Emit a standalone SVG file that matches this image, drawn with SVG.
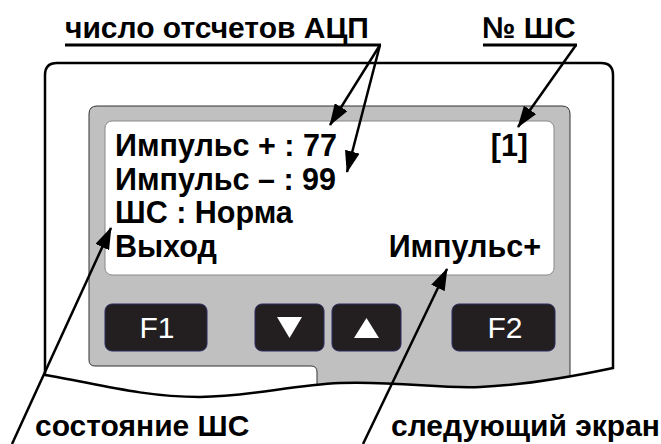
<svg xmlns="http://www.w3.org/2000/svg" width="661" height="444" viewBox="0 0 661 444">
  <defs>
    <style>
      .lbl { font-family: "Liberation Sans", Arial, sans-serif; font-weight: bold; font-size: 30px; fill: #000; }
      .scr { font-family: "Liberation Sans", Arial, sans-serif; font-weight: bold; font-size: 30.5px; fill: #000; }
      .key { font-family: "Liberation Sans", Arial, sans-serif; font-size: 30px; fill: #fff; text-anchor: middle; }
      .btn { fill: #231f20; stroke: #2a2a60; stroke-width: 1; }
      .tri { fill: #fff; }
      .ptr { stroke: #000; stroke-width: 2.5; fill: none; marker-end: url(#ah); }
      .ul { stroke: #000; stroke-width: 3; }
    </style>
    <marker id="ah" viewBox="0 0 22 15" refX="21" refY="7.5" markerWidth="22" markerHeight="15" markerUnits="userSpaceOnUse" orient="auto">
      <path d="M0,0 L22,7.5 L0,15 Z" fill="#000"/>
    </marker>
    <clipPath id="bodyclip">
      <path d="M45,375 L45,75 Q45,63 57,63 L601,63 Q613,63 613,75 L613,368 C580,375 530,385 480,387 C440,389 400,381 340,383 C290,385 250,397 200,397 C140,397 90,382 45,375 Z"/>
    </clipPath>
  </defs>

  <g id="device">
    <path d="M45,375 L45,75 Q45,63 57,63 L601,63 Q613,63 613,75 L613,368 C580,375 530,385 480,387 C440,389 400,381 340,383 C290,385 250,397 200,397 C140,397 90,382 45,375 Z" fill="#fff" stroke="none"/>
    <path clip-path="url(#bodyclip)" d="M89,114 Q89,106 97,106 L562,106 Q570,106 570,114 L570,420 L317,420 L317,372 Q317,366 311,366 L95,366 Q89,366 89,360 Z" fill="#c0c0c0" stroke="#333" stroke-width="1"/>
    <path d="M45,375 L45,75 Q45,63 57,63 L601,63 Q613,63 613,75 L613,368 C580,375 530,385 480,387 C440,389 400,381 340,383 C290,385 250,397 200,397 C140,397 90,382 45,375 Z" fill="none" stroke="#000" stroke-width="2.5"/>
  </g>

  <g id="screen">
    <rect x="105" y="121" width="449" height="154" rx="7" fill="#fff" stroke="#888" stroke-width="1"/>
    <text class="scr" x="115" y="156">Импульс + : 77</text>
    <text class="scr" x="528" y="156" text-anchor="end">[1]</text>
    <text class="scr" x="115" y="189.5">Импульс – : 99</text>
    <text class="scr" x="115" y="223">ШС : Норма</text>
    <text class="scr" x="115" y="257">Выход</text>
    <text class="scr" x="541" y="257" text-anchor="end">Импульс+</text>
  </g>

  <g id="key-f1">
    <rect class="btn" x="105" y="304" width="102" height="47" rx="7"/>
    <text class="key" x="157" y="338">F1</text>
  </g>
  <g id="key-down">
    <rect class="btn" x="255" y="304" width="69" height="47" rx="7"/>
    <polygon class="tri" points="277,317 302,317 289.5,338"/>
  </g>
  <g id="key-up">
    <rect class="btn" x="332" y="304" width="69" height="47" rx="7"/>
    <polygon class="tri" points="354,338 379,338 366.5,318"/>
  </g>
  <g id="key-f2">
    <rect class="btn" x="452" y="304" width="103" height="47" rx="7"/>
    <text class="key" x="505" y="338">F2</text>
  </g>

  <g id="label-adc">
    <text class="lbl" x="65" y="38">число отсчетов АЦП</text>
  </g>
  <g id="label-num">
    <text class="lbl" x="482" y="38">№ ШС</text>
  </g>
  <g id="label-state">
    <text class="lbl" x="35" y="436">состояние ШС</text>
  </g>
  <g id="label-next">
    <text class="lbl" x="391" y="436">следующий экран</text>
  </g>

  <g id="connectors">
    <line class="ul" x1="65" y1="45" x2="381" y2="45"/>
    <line class="ul" x1="483" y1="45" x2="577" y2="45"/>
    <line class="ptr" x1="380" y1="45" x2="330" y2="125"/>
    <line class="ptr" x1="380" y1="45" x2="347" y2="172"/>
    <line class="ptr" x1="576" y1="45" x2="518" y2="127"/>
    <line class="ptr" x1="12" y1="444" x2="111" y2="228"/>
    <line class="ptr" x1="363" y1="444" x2="447" y2="269"/>
  </g>
</svg>
